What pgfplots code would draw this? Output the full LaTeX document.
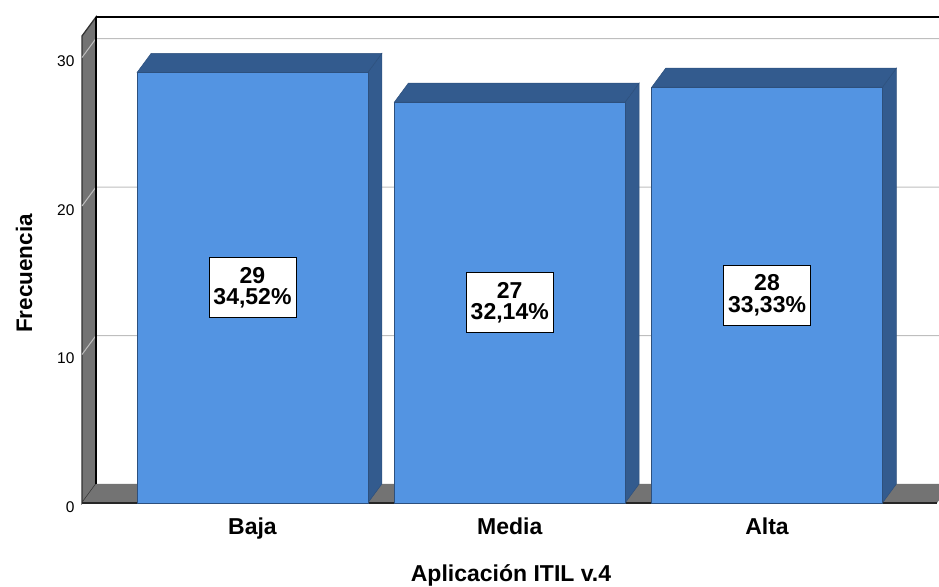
\documentclass[border=0pt]{standalone}
\usepackage{fontspec}
\setmainfont{Liberation Sans}
\usepackage{pgfplots}
\pgfplotsset{compat=1.18}
\definecolor{barfront}{RGB}{83,148,226}
\definecolor{barside}{RGB}{51,91,142}
\definecolor{barline}{RGB}{45,80,125}
\definecolor{wallc}{RGB}{115,115,115}
\definecolor{gridc}{RGB}{190,190,190}
\begin{document}
\begin{tikzpicture}[x=1pt,y=1pt]
\path[use as bounding box] (0,0) rectangle (939,586);
\clip (0,0) rectangle (939,586);
\begin{axis}[
  at={(82pt,83pt)}, anchor=south west,
  scale only axis, width=855pt, height=467pt,
  xmin=-0.6626, xmax=2.6607, ymin=0, ymax=31.45,
  clip=false,
  axis line style={draw=none},
  major tick length=0pt,
  tick style={draw=none},
  xtick={0,1,2}, xticklabels={Baja,Media,Alta},
  ytick={0,10,20,30},
  /pgf/number format/assume math mode=true,
  xticklabel style={font=\bfseries\fontsize{23}{23}\selectfont, anchor=base, yshift=-31pt},
  yticklabel style={font=\fontsize{15.5}{15.5}\selectfont, anchor=east, xshift=-4pt, yshift=-4pt},
]
% left wall
\addplot[fill=wallc, draw=black!80, line width=1.3pt] coordinates {(-0.6626,0) (-0.6082,1.2795) (-0.6082,32.7295) (-0.6626,31.45)} -- cycle;
% floor
\addplot[fill=wallc, draw=none] coordinates {(-0.6626,0) (2.6607,0) (2.7151,1.2795) (-0.6082,1.2795)} -- cycle;
\addplot[draw=black!85, line width=1.6pt] coordinates {(-0.6626,0) (2.6607,0)};
% gridlines
\addplot[gridc, line width=1pt] coordinates {(-0.6626,10) (-0.6082,11.2795) (2.7151,11.2795)};
\addplot[gridc, line width=1pt] coordinates {(-0.6626,20) (-0.6082,21.2795) (2.7151,21.2795)};
\addplot[gridc, line width=1pt] coordinates {(-0.6626,30) (-0.6082,31.2795) (2.7151,31.2795)};
% back frame
\addplot[black, line width=2pt] coordinates {(-0.6082,1.2795) (-0.6082,32.7295)};
\addplot[black, line width=1.5pt] coordinates {(-0.6082,32.7295) (2.7151,32.7295)};
% bars: side and top faces
\addplot[fill=barside, draw=barline, line width=0.5pt] coordinates {(0.4483,0) (0.5027,1.2795) (0.5027,30.2795) (0.4483,29)} -- cycle;
\addplot[fill=barside, draw=barline, line width=0.5pt] coordinates {(-0.4483,29) (0.4483,29) (0.5027,30.2795) (-0.3939,30.2795)} -- cycle;
\addplot[fill=barside, draw=barline, line width=0.5pt] coordinates {(1.4483,0) (1.5027,1.2795) (1.5027,28.2795) (1.4483,27)} -- cycle;
\addplot[fill=barside, draw=barline, line width=0.5pt] coordinates {(0.5517,27) (1.4483,27) (1.5027,28.2795) (0.6061,28.2795)} -- cycle;
\addplot[fill=barside, draw=barline, line width=0.5pt] coordinates {(2.4483,0) (2.5027,1.2795) (2.5027,29.2795) (2.4483,28)} -- cycle;
\addplot[fill=barside, draw=barline, line width=0.5pt] coordinates {(1.5517,28) (2.4483,28) (2.5027,29.2795) (1.6061,29.2795)} -- cycle;
% bars: front faces
\addplot[ybar, bar width=0.8966, fill=barfront, draw=barline, line width=0.5pt] coordinates {(0,29) (1,27) (2,28)};
% value labels
\node[draw=black, line width=0.8pt, fill=white, align=center, inner xsep=4.5pt, minimum height=60pt,
  font=\bfseries\fontsize{23}{21.5}\selectfont] at (axis cs:0,14.5) {29\\34,52\%};
\node[draw=black, line width=0.8pt, fill=white, align=center, inner xsep=4.5pt, minimum height=60pt,
  font=\bfseries\fontsize{23}{21.5}\selectfont] at (axis cs:1,13.5) {27\\32,14\%};
\node[draw=black, line width=0.8pt, fill=white, align=center, inner xsep=4.5pt, minimum height=60pt,
  font=\bfseries\fontsize{23}{21.5}\selectfont] at (axis cs:2,14) {28\\33,33\%};
\end{axis}
\node[rotate=90, anchor=base, font=\bfseries\fontsize{22.5}{22.5}\selectfont] at (32,312.5) {Frecuencia};
\node[anchor=base, font=\bfseries\fontsize{23}{23}\selectfont] at (511,5) {Aplicación ITIL v.4};
\end{tikzpicture}
\end{document}
